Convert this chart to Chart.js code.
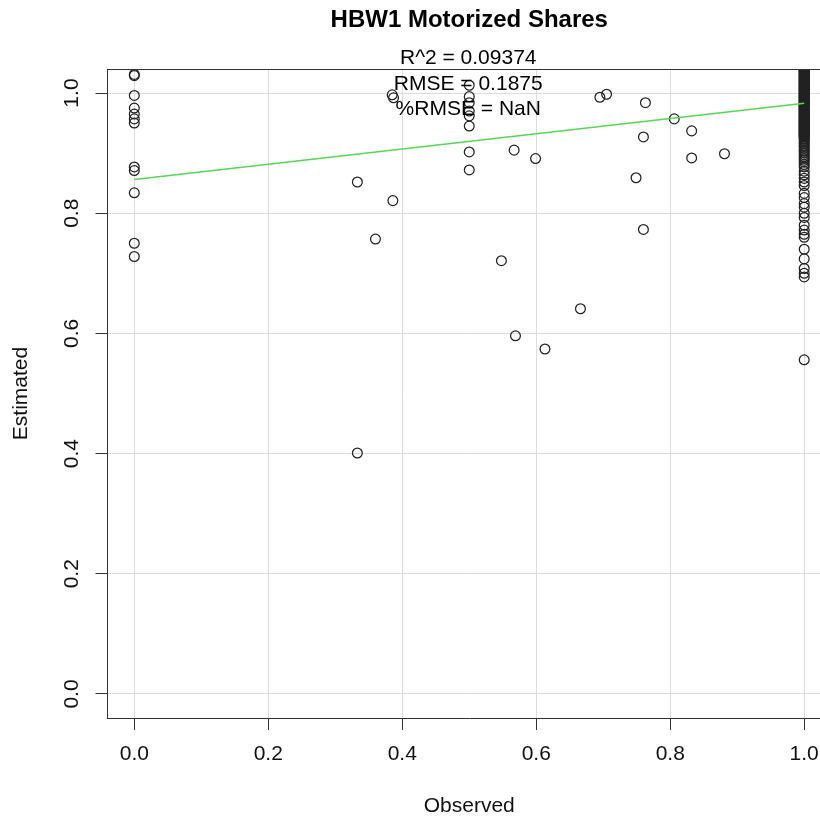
<!DOCTYPE html>
<html lang="en">
<head>
    <meta charset="UTF-8">
    <title>HBW1 Motorized Shares</title>
    <script src="https://cdn.jsdelivr.net/npm/chart.js@4"></script>
    <style>
        html, body { margin: 0; padding: 0; overflow: hidden; background: #fff; }
    </style>
</head>
<body>
    <canvas id="scatter" width="840" height="816"></canvas>

    <script>
        // observed share vs estimated share, points with observed strictly between 0 and 1
        const midObserved  = [0.333, 0.333, 0.360, 0.385, 0.387, 0.386,
                              0.500, 0.500, 0.500, 0.500, 0.500, 0.500, 0.500, 0.500,
                              0.548, 0.567, 0.569, 0.599, 0.613, 0.666, 0.695, 0.705,
                              0.749, 0.760, 0.760, 0.763, 0.806, 0.832, 0.832, 0.881];
        const midEstimated = [0.852, 0.401, 0.757, 0.997, 0.992, 0.821,
                              1.013, 0.994, 0.984, 0.970, 0.962, 0.945, 0.902, 0.872,
                              0.721, 0.905, 0.596, 0.891, 0.574, 0.641, 0.993, 0.998,
                              0.859, 0.927, 0.773, 0.984, 0.957, 0.937, 0.892, 0.899];

        // observed = 0
        const zeroEstimated = [1.031, 1.029, 0.996, 0.975, 0.965, 0.957, 0.950,
                               0.877, 0.871, 0.834, 0.750, 0.728];

        // observed = 1 (very dense near the top)
        const oneEstimated = [0.556, 0.694, 0.700, 0.708, 0.724, 0.740, 0.760, 0.765,
                              0.772, 0.780, 0.793, 0.800, 0.810, 0.816, 0.826, 0.833,
                              0.846, 0.852, 0.858, 0.864, 0.870, 0.877, 0.881, 0.885,
                              0.888, 0.891, 0.894, 0.897, 0.900, 0.903, 0.905, 0.908,
                              0.911, 0.913, 0.916, 0.918, 0.921, 0.923, 0.925, 0.927,
                              0.929, 0.930, 0.932, 0.933, 0.935, 0.936, 0.938, 0.939,
                              0.941, 0.942, 0.944, 0.945, 0.947, 0.948, 0.950, 0.951,
                              0.953, 0.954, 0.956, 0.957, 0.959, 0.960, 0.962, 0.963,
                              0.965, 0.966, 0.968, 0.969, 0.971, 0.972, 0.974, 0.975,
                              0.977, 0.978, 0.980, 0.981, 0.983, 0.984, 0.986, 0.987,
                              0.989, 0.990, 0.992, 0.993, 0.995, 0.996, 0.998, 0.999,
                              1.001, 1.002, 1.004, 1.005, 1.007, 1.008, 1.010, 1.011,
                              1.013, 1.014, 1.016, 1.017, 1.019, 1.020, 1.022, 1.023,
                              1.025, 1.026, 1.028, 1.029, 1.031, 1.032, 1.034, 1.035,
                              1.037, 1.038, 1.040, 1.041, 1.043, 1.045, 1.047];
        const oneEstimatedMore = [0.9275, 0.9305, 0.9335, 0.9365, 0.9395, 0.9425, 0.9455,
                                  0.9485, 0.9515, 0.9545, 0.9575, 0.9605, 0.9635, 0.9665,
                                  0.9695, 0.9725, 0.9755, 0.9785, 0.9815, 0.9845, 0.9875,
                                  0.9905, 0.9935, 0.9965, 0.9995, 1.0025, 1.0055, 1.0085,
                                  1.0115, 1.0145, 1.0175, 1.0205, 1.0235, 1.0265, 1.0295,
                                  1.0325, 1.0355, 1.0385, 1.0415, 1.0445, 1.0465];

        // fitted line
        const fitX = [0, 1];
        const fitY = [0.856, 0.983];

        const statLines = ["R^2 = 0.09374", "RMSE = 0.1875", "%RMSE = NaN"];
        const chartTitle = "HBW1 Motorized Shares";

        const points = [];
        zeroEstimated.forEach(v => points.push({ x: 0, y: v }));
        midObserved.forEach((o, i) => points.push({ x: o, y: midEstimated[i] }));
        oneEstimated.forEach(v => points.push({ x: 1, y: v }));
        oneEstimatedMore.forEach(v => points.push({ x: 1, y: v }));

        const fitData = fitX.map((x, i) => ({ x: x, y: fitY[i] }));

        const FONT = "'Liberation Sans', Arial, sans-serif";

        // title, stats text and box top edge
        const overlay = {
            id: 'overlay',
            afterDraw(chart) {
                const ctx = chart.ctx;
                const a = chart.chartArea;
                ctx.save();
                ctx.strokeStyle = '#333';
                ctx.lineWidth = 1;
                ctx.beginPath();
                ctx.moveTo(a.left, a.top + 0.5);
                ctx.lineTo(a.right, a.top + 0.5);
                ctx.stroke();

                const cx = (a.left + a.right) / 2;
                ctx.fillStyle = '#000';
                ctx.textAlign = 'center';
                ctx.textBaseline = 'alphabetic';
                ctx.font = "bold 24px " + FONT;
                ctx.fillText(chartTitle, cx, 27);
                ctx.font = "21px " + FONT;
                ctx.fillText(statLines[0], cx - 1, 64);
                ctx.fillText(statLines[1], cx - 1, 90);
                ctx.fillText(statLines[2], cx - 1, 115);
                ctx.restore();
            }
        };

        const ctx = document.getElementById("scatter").getContext("2d");
        new Chart(ctx, {
            type: "scatter",
            data: {
                datasets: [
                    {
                        type: "line",
                        data: fitData,
                        borderColor: "rgb(85, 215, 85)",
                        borderWidth: 1.5,
                        pointRadius: 0,
                        fill: false,
                        clip: 0,
                    },
                    {
                        data: points,
                        pointStyle: "circle",
                        pointRadius: 4.9,
                        borderWidth: 1.25,
                        borderColor: "#222",
                        backgroundColor: "rgba(0,0,0,0)",
                        clip: 0,
                    },
                ],
            },
            options: {
                responsive: false,
                animation: false,
                devicePixelRatio: 1,
                layout: { padding: { top: 69, right: 9, left: 0, bottom: 0 } },
                plugins: {
                    legend: { display: false },
                    tooltip: { enabled: false },
                },
                scales: {
                    x: {
                        type: "linear",
                        min: -0.04,
                        max: 1.04,
                        afterFit: s => { s.height = 98; },
                        grid: { color: "#dcdcdc", tickColor: "#333", tickLength: 12 },
                        border: { color: "#333" },
                        ticks: {
                            stepSize: 0.2,
                            includeBounds: false,
                            padding: 12,
                            color: "#111",
                            font: { family: FONT, size: 21 },
                            callback: v => v.toFixed(1),
                        },
                        title: {
                            display: true,
                            text: "Observed",
                            color: "#111",
                            font: { family: FONT, size: 21 },
                            padding: { top: 0, bottom: -3 },
                        },
                    },
                    y: {
                        type: "linear",
                        min: -0.04,
                        max: 1.04,
                        afterFit: s => { s.width = 107.5; },
                        grid: { color: "#dcdcdc", tickColor: "#333", tickLength: 12 },
                        border: { color: "#333" },
                        ticks: {
                            stepSize: 0.2,
                            includeBounds: false,
                            minRotation: 90,
                            maxRotation: 90,
                            crossAlign: "center",
                            padding: 9,
                            color: "#111",
                            font: { family: FONT, size: 21 },
                            callback: v => v.toFixed(1),
                        },
                        title: {
                            display: true,
                            text: "Estimated",
                            color: "#111",
                            font: { family: FONT, size: 21 },
                            padding: { top: 9, bottom: 0 },
                        },
                    },
                },
            },
            plugins: [overlay],
        });
    </script>
</body>
</html>
